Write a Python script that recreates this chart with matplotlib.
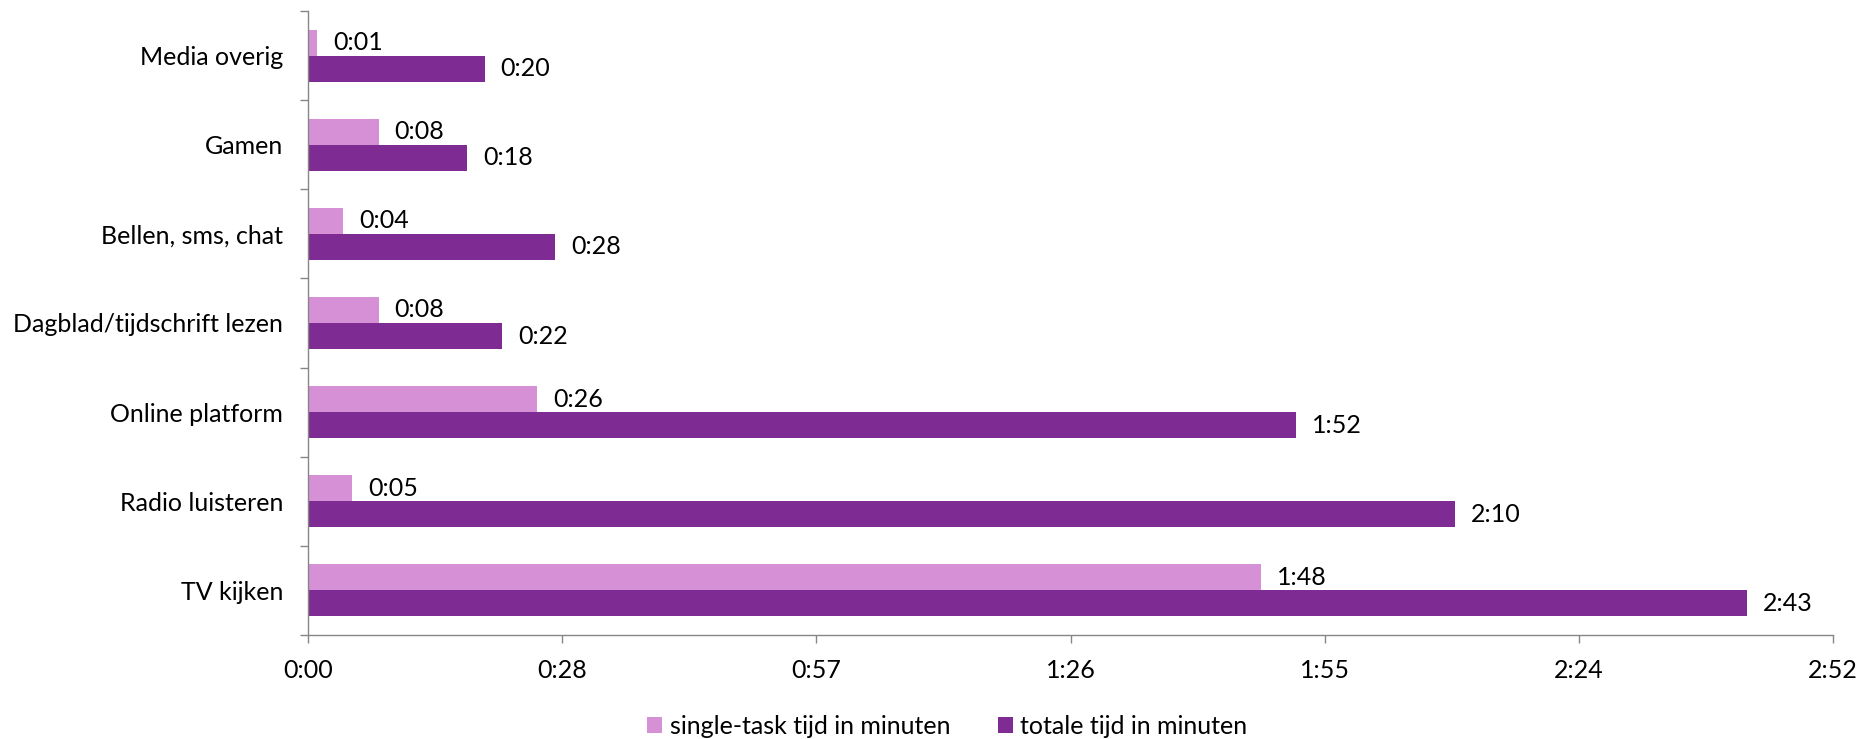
import matplotlib
matplotlib.use("Agg")
import matplotlib.pyplot as plt
import numpy as np

# Daily media time per activity, in minutes
categories = ["TV kijken", "Radio luisteren", "Online platform",
              "Dagblad/tijdschrift lezen", "Bellen, sms, chat", "Gamen", "Media overig"]
single_task = [108, 5, 26, 8, 4, 8, 1]
totale = [163, 130, 112, 22, 28, 18, 20]
series_names = ["single-task tijd in minuten", "totale tijd in minuten"]
x_ticks = [0, 28.8, 57.6, 86.4, 115.2, 144.0, 172.8]

PINK = "#D690D6"
PURPLE = "#7F2B94"
AXIS_GREY = "#868686"


def hmm(minutes):
    m = int(minutes + 1e-9)
    return f"{m // 60}:{m % 60:02d}"


plt.rcParams["font.family"] = ["Lato", "DejaVu Sans"]
FS = 18

fig = plt.figure(figsize=(18.62, 7.39), dpi=100)
W, H = 1862, 739
ax = fig.add_axes([308 / W, 1 - 635 / H, (1833 - 308) / W, (635 - 11) / H])

y = np.arange(len(categories))
h = 0.292
b1 = ax.barh(y + h / 2, single_task, height=h, color=PINK, label=series_names[0])
b2 = ax.barh(y - h / 2, totale, height=h, color=PURPLE, label=series_names[1])

for bars, vals in ((b1, single_task), (b2, totale)):
    for rect, v in zip(bars, vals):
        ax.annotate(hmm(v), (v, rect.get_y() + rect.get_height() / 2),
                    xytext=(16, 0), textcoords="offset pixels",
                    ha="left", va="center", fontsize=FS, color="black")

ax.set_xlim(0, x_ticks[-1])
ax.set_ylim(-0.5, len(categories) - 0.5)

ax.set_xticks(x_ticks)
ax.set_xticklabels([hmm(t) for t in x_ticks], fontsize=FS)
ax.tick_params(axis="x", direction="out", length=6, width=1, color=AXIS_GREY, pad=11)

# category boundaries carry the tick marks, centres carry the labels
ax.set_yticks(np.arange(-0.5, len(categories), 1.0))
ax.set_yticklabels([])
ax.set_yticks(y, minor=True)
ax.set_yticklabels(categories, minor=True, fontsize=FS)
ax.tick_params(axis="y", which="major", direction="out", length=6, width=1, color=AXIS_GREY)
ax.tick_params(axis="y", which="minor", length=0, pad=18)

for side in ("top", "right"):
    ax.spines[side].set_visible(False)
for side in ("left", "bottom"):
    ax.spines[side].set_color(AXIS_GREY)
    ax.spines[side].set_linewidth(1)

fig.legend(handles=[b1, b2], labels=series_names, loc="center",
           bbox_to_anchor=((650 + 1245) / 2 / W, 1 - 726 / H), ncol=2,
           frameon=False, fontsize=FS, handlelength=0.6, handleheight=0.6,
           handletextpad=0.3, columnspacing=1.9, borderaxespad=0)

fig.savefig("out.png", dpi=100, facecolor="white")
